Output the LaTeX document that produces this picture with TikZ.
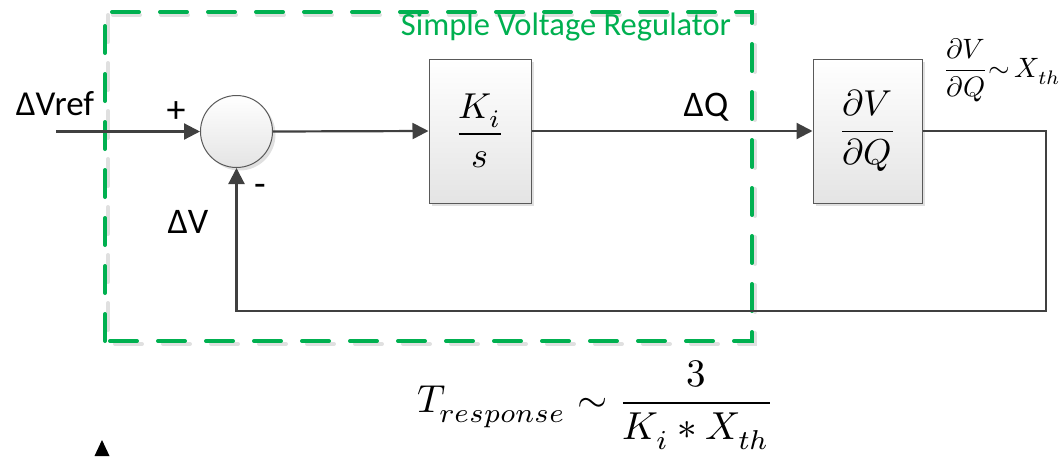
\documentclass[tikz,border=0pt]{standalone}
\usepackage{amsmath}
\usepackage{graphicx}
\usepackage{fontspec}
\usepackage{unicode-math}
\setmainfont{Carlito}
\setmathfont{Latin Modern Math}
\usetikzlibrary{arrows.meta,shadows}
\definecolor{linec}{HTML}{404040}
\definecolor{boxborder}{HTML}{595959}
\definecolor{boxbot}{HTML}{E4E4E4}
\definecolor{regreen}{HTML}{00B050}
\tikzset{
  conn/.style={draw=linec, line width=2.2pt},
  arr/.style={conn, -{Triangle[length=16pt,width=16pt]}},
  blockbox/.style={draw=boxborder, line width=1pt, top color=white, bottom color=boxbot,
     minimum height=144pt, inner sep=0pt,
     drop shadow={shadow xshift=3pt, shadow yshift=-3pt, fill=black!12, opacity=1}},
  sumnode/.style={circle, draw=boxborder, line width=1pt, top color=white, bottom color=boxbot,
     minimum size=72pt, inner sep=0pt,
     drop shadow={shadow xshift=3pt, shadow yshift=-3pt, fill=black!12, opacity=1}},
  lbl/.style={inner sep=0pt, font=\fontsize{36}{42}\selectfont},
  regbox/.style={draw=regreen, line width=4pt, dash pattern=on 27pt off 21pt, line cap=round},
}
\begin{document}
\begin{tikzpicture}[x=1pt,y=-1pt]
\useasboundingbox (0,0) rectangle (1061,456);
% regulator frame (shadow then frame)
\draw[black!12, line width=4pt, dash pattern=on 27pt off 21pt, line cap=round] (108,15) rectangle (755,344);
\draw[regbox] (105,341) -- (105,12) -- (752,12) -- (752,341) -- cycle;
\node[inner sep=0pt, text=regreen, font=\fontsize{32.5}{38}\selectfont] (title) at (566,27) {Simple Voltage Regulator};
% blocks
\node[sumnode] (sum) at (236.5,131.5) {};
\node[blockbox, minimum width=102pt] (ki) at (480,131) {\scalebox{3.6}{$\displaystyle\frac{K_i}{s}$}};
\node[blockbox, minimum width=109pt] (dv) at (867.5,131) {\scalebox{3.6}{$\displaystyle\frac{\partial V}{\partial Q}$}};
% coordinates
\coordinate (in) at (56,131.5);
\coordinate (fb) at (1046,311);
% connectors
\draw[arr] (in) -- (sum.west);
\draw[arr] (sum.east) -- (ki.west);
\draw[arr] (ki.east) -- (dv.west);
\draw[arr] (dv.east) -| (fb) -| (sum.south);
% labels
\node[lbl, font=\fontsize{35}{40}\selectfont] (vref) at (55,104) {ΔVref};
\node[lbl, font=\fontsize{38}{42}\selectfont] (plus) at (176,112) {+};
\node[lbl, font=\fontsize{38}{42}\selectfont] (minus) at (260,190) {-};
\node[lbl] (dvl) at (188,222) {ΔV};
\node[lbl] (dq) at (706,107) {ΔQ};
\node[inner sep=0pt] (gain) at (1002,70) {\scalebox{2.8}{$\displaystyle\frac{\partial V}{\partial Q}{\sim}\,X_{th}$}};
\node[inner sep=0pt] (tresp) at (596,405) {\scalebox{3.9}{$T_{response}\sim\dfrac{3}{K_i * X_{th}}$}};
% partial marker at bottom left
\fill[black] (102,440) -- (94.5,456) -- (109.5,456) -- cycle;
\end{tikzpicture}
\end{document}
